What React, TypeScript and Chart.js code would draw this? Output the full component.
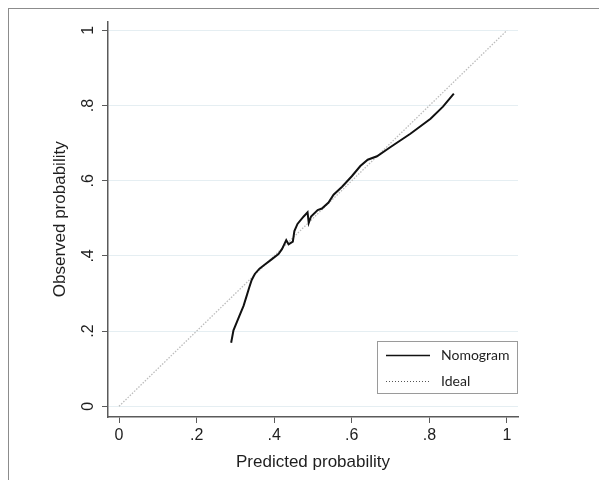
import React, { useEffect, useRef } from "react";
import { Chart, registerables } from "chart.js";

Chart.register(...registerables);

// ---- data ----
const predicted = [
  0.289, 0.295, 0.31, 0.321, 0.33, 0.335, 0.342, 0.35, 0.362, 0.376, 0.39, 0.411,
  0.42, 0.431, 0.437, 0.448, 0.452, 0.46, 0.476, 0.486, 0.489, 0.495, 0.512, 0.523,
  0.54, 0.553, 0.575, 0.6, 0.622, 0.641, 0.665, 0.699, 0.751, 0.803, 0.835, 0.863,
];
const observed = [
  0.169, 0.202, 0.24, 0.267, 0.297, 0.314, 0.336, 0.352, 0.366, 0.377, 0.388, 0.405,
  0.418, 0.442, 0.431, 0.438, 0.466, 0.485, 0.505, 0.516, 0.488, 0.505, 0.522, 0.526,
  0.542, 0.563, 0.584, 0.612, 0.639, 0.656, 0.665, 0.689, 0.725, 0.765, 0.797, 0.832,
];
const idealPredicted = [0, 1];
const idealObserved = [0, 1];
const tickValues = [0, 0.2, 0.4, 0.6, 0.8, 1];
const tickLabels = ["0", ".2", ".4", ".6", ".8", "1"];
const seriesNames = ["Nomogram", "Ideal"];
const xTitle = "Predicted probability";
const yTitle = "Observed probability";

const AXIS = "#5a5a5a";
const GRID = "#e5eef2";
const TEXT = "#1e1e1e";
const FONT = "'Liberation Sans', Arial, sans-serif";
const LEGEND_FONT = "Lato, 'Liberation Sans', sans-serif";

const labelFor = (v: number) => {
  const i = tickValues.findIndex((t) => Math.abs(t - v) < 1e-6);
  return i >= 0 ? tickLabels[i] : "";
};

const yTickPlugin = {
  id: "yRotatedTicks",
  afterDraw(chart: any) {
    const ctx = chart.ctx;
    const y = chart.scales.y;
    ctx.save();
    ctx.fillStyle = TEXT;
    ctx.font = `16px ${FONT}`;
    ctx.textAlign = "center";
    ctx.textBaseline = "middle";
    tickValues.forEach((v) => {
      const py = y.getPixelForValue(v);
      ctx.save();
      ctx.translate(y.right - 19, py);
      ctx.rotate(-Math.PI / 2);
      ctx.fillText(labelFor(v), 0, 0);
      ctx.restore();
    });
    ctx.restore();
  },
};

const legendPlugin = {
  id: "insideLegend",
  afterDraw(chart: any) {
    const ctx = chart.ctx;
    const area = chart.chartArea;
    const w = 141;
    const h = 53;
    const x0 = area.right - w;
    const y0 = area.bottom - 23 - h;
    ctx.save();
    ctx.fillStyle = "#ffffff";
    ctx.fillRect(x0, y0, w, h);
    ctx.strokeStyle = "#9a9a9a";
    ctx.lineWidth = 1;
    ctx.strokeRect(x0 + 0.5, y0 + 0.5, w - 1, h - 1);
    chart.data.datasets.forEach((ds: any, i: number) => {
      const ly = y0 + 14 + i * 26 + 0.5;
      ctx.beginPath();
      ctx.strokeStyle = i === 0 ? "#111111" : "#555555";
      ctx.lineWidth = i === 0 ? 1.6 : 1;
      ctx.setLineDash(i === 0 ? [] : [1, 2]);
      ctx.moveTo(x0 + 9, ly);
      ctx.lineTo(x0 + 53, ly);
      ctx.stroke();
      ctx.setLineDash([]);
      ctx.fillStyle = TEXT;
      ctx.font = `14px ${LEGEND_FONT}`;
      ctx.textAlign = "left";
      ctx.textBaseline = "middle";
      ctx.fillText(ds.label, x0 + 64, ly);
    });
    ctx.restore();
  },
};

export default function App() {
  const ref = useRef<HTMLCanvasElement | null>(null);

  useEffect(() => {
    if (!ref.current) return;
    const nomo = predicted.map((x, i) => ({ x, y: observed[i] }));
    const ideal = idealPredicted.map((x, i) => ({ x, y: idealObserved[i] }));
    const chart = new Chart(ref.current, {
      type: "scatter",
      data: {
        datasets: [
          {
            label: seriesNames[0],
            data: nomo,
            showLine: true,
            borderColor: "#111111",
            borderWidth: 2,
            pointRadius: 0,
            tension: 0,
          },
          {
            label: seriesNames[1],
            data: ideal,
            showLine: true,
            borderColor: "#bcbcbc",
            borderWidth: 1.3,
            borderDash: [1.5, 1.5],
            pointRadius: 0,
          },
        ],
      },
      options: {
        animation: false,
        responsive: false,
        layout: { padding: { top: 3, right: 89, bottom: 0, left: 0 } },
        plugins: {
          legend: { display: false },
          tooltip: { enabled: false },
        },
        scales: {
          x: {
            type: "linear",
            min: -0.0284,
            max: 1.0284,
            afterBuildTicks: (s: any) => {
              s.ticks = tickValues.map((v) => ({ value: v }));
            },
            afterFit: (s: any) => {
              s.height = 63;
            },
            ticks: {
              callback: (v: any) => labelFor(Number(v)),
              color: TEXT,
              font: { family: FONT, size: 16 },
              padding: 3,
              maxRotation: 0,
              autoSkip: false,
            },
            grid: {
              drawOnChartArea: false,
              drawTicks: true,
              tickLength: 6,
              tickColor: AXIS,
              tickWidth: 1,
            },
            border: { color: AXIS, width: 1.5 },
            title: {
              display: true,
              text: xTitle,
              color: TEXT,
              font: { family: FONT, size: 17 },
              padding: { top: 0, bottom: 7 },
            },
          },
          y: {
            type: "linear",
            min: -0.0286,
            max: 1.0234,
            afterBuildTicks: (s: any) => {
              s.ticks = tickValues.map((v) => ({ value: v }));
            },
            afterFit: (s: any) => {
              s.width = 99;
            },
            ticks: {
              callback: (v: any) => labelFor(Number(v)),
              color: "rgba(0,0,0,0)",
              font: { family: FONT, size: 16 },
              autoSkip: false,
            },
            grid: {
              color: GRID,
              lineWidth: 1,
              drawTicks: true,
              tickLength: 6,
              tickColor: AXIS,
              tickWidth: 1,
            },
            border: { color: AXIS, width: 1.5 },
            title: {
              display: true,
              text: yTitle,
              color: TEXT,
              font: { family: FONT, size: 17 },
              padding: { top: 41, bottom: 0 },
            },
          },
        },
      },
      plugins: [yTickPlugin, legendPlugin],
    });
    return () => chart.destroy();
  }, []);

  return (
    <div
      style={{
        width: 599,
        height: 472,
        borderTop: "1px solid #8c8c8c",
        borderLeft: "1px solid #8c8c8c",
        boxSizing: "border-box",
        background: "#ffffff",
      }}
    >
      <canvas ref={ref} width={598} height={471} style={{ display: "block" }} />
    </div>
  );
}
